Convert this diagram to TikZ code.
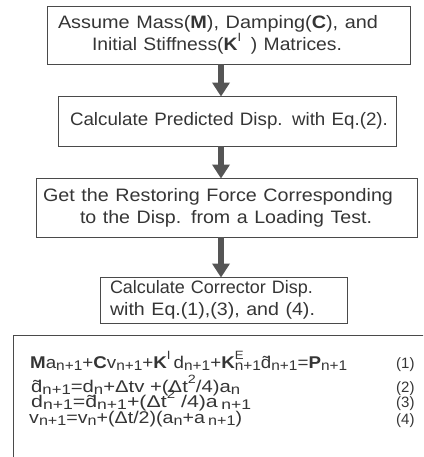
\documentclass[tikz,border=0pt]{standalone}
\usepackage{fontspec}
\usepackage{graphicx}
\setmainfont{Liberation Sans}
\usetikzlibrary{arrows.meta}
\definecolor{ink}{HTML}{353535}
\definecolor{frame}{HTML}{4A4A4A}
\definecolor{arrowgray}{HTML}{555555}
% subscripts / superscripts sitting close to the baseline
\newcommand\lowsub[1]{\raisebox{-0.3ex}{\fontsize{14}{14}\selectfont #1}}
\newcommand\highsup[1]{\raisebox{1.0ex}{\fontsize{12}{12}\selectfont #1}}
% set a line at a given width by stretching it horizontally
\newsavebox\fitbox
\newcommand\fitto[2]{\sbox\fitbox{#2}\scalebox{\fpeval{(#1)/(\the\wd\fitbox)}}[1]{\usebox\fitbox}}
\tikzset{
  stepbox/.style={draw=frame, line width=0.9pt, inner xsep=0pt, inner ysep=0pt,
    text=ink, align=left, font=\fontsize{18}{22}\selectfont},
  flowarrow/.style={draw=arrowgray, line width=6pt,
    -{Triangle[width=17pt,length=14pt]}, shorten >=-1pt},
  eqline/.style={anchor=base west, inner sep=0pt, text=ink,
    font=\fontsize{17}{17}\selectfont},
  eqnum/.style={anchor=base west, inner sep=0pt, text=ink,
    font=\fontsize{15}{15}\selectfont}
}
\begin{document}
\begin{tikzpicture}[x=1pt,y=-1pt]
\useasboundingbox (0,0) rectangle (423,457);
\clip (0,0) rectangle (423,457);

% flow chart boxes
\node[stepbox, minimum width=363pt, text width=363pt, minimum height=58pt] (b1) at (228.5,35)
  {\hspace*{11pt}\fitto{320pt}{Assume Mass(\textbf{M}), Damping(\textbf{C}), and}\\
   \hspace*{45pt}\fitto{250pt}{Initial Stiffness(\textbf{K}\highsup{I}\ \,) Matrices.}};
\node[stepbox, minimum width=338pt, text width=338pt, minimum height=50pt] (b2) at (227,121)
  {\hspace*{12pt}\fitto{318pt}{Calculate Predicted Disp. with Eq.(2).}};
\node[stepbox, minimum width=381pt, text width=381pt, minimum height=59pt] (b3) at (226.5,207.5)
  {\hspace*{7pt}\fitto{350pt}{Get the Restoring Force Corresponding}\\
   \hspace*{44pt}\fitto{292pt}{to the Disp. from a Loading Test.}};
\node[stepbox, minimum width=247pt, text width=247pt, minimum height=46pt] (b4) at (223.5,300)
  {\hspace*{10pt}\fitto{203pt}{Calculate Corrector Disp.}\\
   \hspace*{10pt}\fitto{205pt}{with Eq.(1),(3), and (4).}};

% arrows between the steps
\coordinate (ax) at (221,0);
\draw[flowarrow] (b1.south -| ax) -- (b2.north -| ax);
\draw[flowarrow] (b2.south -| ax) -- (b3.north -| ax);
\draw[flowarrow] (b3.south -| ax) -- (b4.north -| ax);

% equation panel
\coordinate (eqTL) at (13,335);
\coordinate (eqBR) at (440,480);
\draw[frame, line width=0.9pt] (eqTL) rectangle (eqBR);

\node[eqline] (e1) at (30,368)
  {\fitto{317pt}{\textbf{M}a\lowsub{n+1}+\textbf{C}v\lowsub{n+1}+\textbf{K}\highsup{I}\,d\lowsub{n+1}+\textbf{K}\rlap{\highsup{E}}\lowsub{n+1}\~{d}\lowsub{n+1}=\textbf{P}\lowsub{n+1}}};
\node[eqline] (e2) at (31,392)
  {\fitto{209pt}{\~{d}\lowsub{n+1}=d\lowsub{n}+Δtv +(Δt\highsup{2}/4)a\lowsub{n}}};
\node[eqline] (e3) at (31,407)
  {\fitto{220pt}{d\lowsub{n+1}=\~{d}\lowsub{n+1}+(Δt\highsup{2} /4)a\,\lowsub{n+1}}};
\node[eqline] (e4) at (29,423)
  {\fitto{213pt}{v\lowsub{n+1}=v\lowsub{n}+(Δt/2)(a\lowsub{n}+a\,\lowsub{n+1})}};

\node[eqnum] (n1) at (396,368) {(1)};
\node[eqnum] (n2) at (396,392) {(2)};
\node[eqnum] (n3) at (396,407) {(3)};
\node[eqnum] (n4) at (396,424) {(4)};
\end{tikzpicture}
\end{document}
